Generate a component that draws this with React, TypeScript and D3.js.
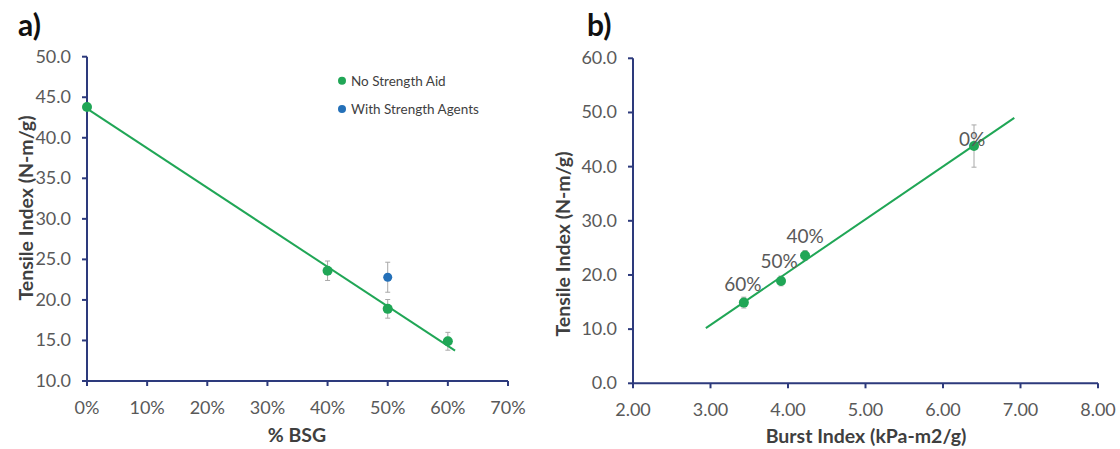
import React from "react";
import * as d3 from "d3";

// panel a) tensile index vs % BSG
const bsgPct = [0, 40, 50, 60];
const tensileNoAid = [43.8, 23.6, 18.9, 14.9];
const tensileErrA = [0, 1.2, 1.15, 1.1];
const bsgPctAgents = [50];
const tensileAgents = [22.8];
const tensileAgentsErr = [1.85];

// panel b) tensile index vs burst index, same samples
const burstIndex = [6.4, 4.22, 3.91, 3.43];
const tensileErrB = [3.9, 0.9, 0.9, 1.0];
const pointLabels = ["0%", "40%", "50%", "60%"];

const xTicksA = [0, 10, 20, 30, 40, 50, 60, 70];
const yTicksA = [10, 15, 20, 25, 30, 35, 40, 45, 50];
const xTicksB = [2, 3, 4, 5, 6, 7, 8];
const yTicksB = [0, 10, 20, 30, 40, 50, 60];

const trendRangeA = [0, 61.2];
const trendRangeB = [2.94, 6.92];

const legendItems = ["No Strength Aid", "With Strength Agents"];

const GREEN = "#20a656";
const BLUE = "#2470b8";
const AXIS = "#2d3a7c";
const TICK_TXT = "#595959";
const TITLE_TXT = "#3f3f3f";
const ERR = "#a8a8a8";
const FONT = "Lato, 'Open Sans', sans-serif";

// least squares, like the excel trendline
function linFit(xs: number[], ys: number[]) {
  const mx = d3.mean(xs)!;
  const my = d3.mean(ys)!;
  let sxy = 0;
  let sxx = 0;
  xs.forEach((x, i) => {
    sxy += (x - mx) * (ys[i] - my);
    sxx += (x - mx) * (x - mx);
  });
  const slope = sxy / sxx;
  return (x: number) => my + slope * (x - mx);
}

const ErrorBar = ({ x, y0, y1, color }: any) => (
  <g stroke={color} strokeWidth={1}>
    <line x1={x} x2={x} y1={y0} y2={y1} />
    <line x1={x - 2.5} x2={x + 2.5} y1={y0} y2={y0} />
    <line x1={x - 2.5} x2={x + 2.5} y1={y1} y2={y1} />
  </g>
);

const Axes = ({ x, y, xTicks, yTicks, xFmt, yFmt }: any) => {
  const [x0, x1] = x.range();
  const [yb, yt] = y.range();
  return (
    <g>
      <line x1={x0} x2={x1} y1={yb} y2={yb} stroke={AXIS} strokeWidth={2} />
      <line x1={x0} x2={x0} y1={yb} y2={yt} stroke={AXIS} strokeWidth={2} />
      {xTicks.map((t: number) => (
        <g key={"x" + t}>
          <line x1={x(t)} x2={x(t)} y1={yb} y2={yb + 5} stroke={AXIS} strokeWidth={2} />
          <text x={x(t)} y={yb + 33} textAnchor="middle" fontSize={18} fill={TICK_TXT}>
            {xFmt(t)}
          </text>
        </g>
      ))}
      {yTicks.map((t: number) => (
        <g key={"y" + t}>
          <line x1={x0 - 5} x2={x0} y1={y(t)} y2={y(t)} stroke={AXIS} strokeWidth={2} />
          <text x={x0 - 16} y={y(t) + 6} textAnchor="end" fontSize={18} fill={TICK_TXT}>
            {yFmt(t)}
          </text>
        </g>
      ))}
    </g>
  );
};

const PanelA = () => {
  const x = d3.scaleLinear().domain([0, 70]).range([87, 508]);
  const y = d3.scaleLinear().domain([10, 50]).range([381, 56.7]);
  const fit = linFit(bsgPct, tensileNoAid);
  const trend = d3.line<number>().x((d) => x(d)).y((d) => y(fit(d)));

  return (
    <g>
      <text x={18} y={36} fontSize={30} fontWeight="bold" fill="#111">a)</text>
      {bsgPct.map((p, i) =>
        tensileErrA[i] > 0 ? (
          <ErrorBar key={"e" + i} x={x(p)} y0={y(tensileNoAid[i] + tensileErrA[i])}
            y1={y(tensileNoAid[i] - tensileErrA[i])} color={ERR} />
        ) : null
      )}
      {bsgPctAgents.map((p, i) => (
        <ErrorBar key={"ea" + i} x={x(p)} y0={y(tensileAgents[i] + tensileAgentsErr[i])}
          y1={y(tensileAgents[i] - tensileAgentsErr[i])} color={ERR} />
      ))}
      <Axes x={x} y={y} xTicks={xTicksA} yTicks={yTicksA}
        xFmt={(t: number) => t + "%"} yFmt={d3.format(".1f")} />
      {bsgPct.map((p, i) => (
        <circle key={"p" + i} cx={x(p)} cy={y(tensileNoAid[i])} r={5} fill={GREEN} />
      ))}
      {bsgPctAgents.map((p, i) => (
        <circle key={"pa" + i} cx={x(p)} cy={y(tensileAgents[i])} r={4.5} fill={BLUE} />
      ))}
      <path d={trend(trendRangeA) || ""} fill="none" stroke={GREEN} strokeWidth={2} />

      {legendItems.map((name, i) => (
        <g key={name} transform={`translate(342, ${80.7 + i * 28.3})`}>
          <circle r={4} fill={i === 0 ? GREEN : BLUE} />
          <text x={9} y={5} fontSize={13.5} fill={TITLE_TXT}>{name}</text>
        </g>
      ))}

      <text x={297} y={442} textAnchor="middle" fontSize={19.5} fontWeight="bold" fill={TITLE_TXT}>
        % BSG
      </text>
      <text transform="translate(33, 208) rotate(-90)" textAnchor="middle" fontSize={19.5}
        fontWeight="bold" fill={TITLE_TXT}>
        Tensile Index (N-m/g)
      </text>
    </g>
  );
};

// where each point label sits relative to its marker
const labelOffsets: Record<string, [number, number]> = {
  "0%": [-2, -7],
  "40%": [0, -19],
  "50%": [-2, -20],
  "60%": [-1, -19],
};

const PanelB = () => {
  const x = d3.scaleLinear().domain([2, 8]).range([633, 1098]);
  const y = d3.scaleLinear().domain([0, 60]).range([383.3, 58.3]);
  const fit = linFit(burstIndex, tensileNoAid);
  const trend = d3.line<number>().x((d) => x(d)).y((d) => y(fit(d)));

  return (
    <g>
      <text x={587} y={36} fontSize={30} fontWeight="bold" fill="#111">b)</text>
      {burstIndex.map((b, i) => (
        <ErrorBar key={"e" + i} x={x(b)} y0={y(tensileNoAid[i] + tensileErrB[i])}
          y1={y(tensileNoAid[i] - tensileErrB[i])} color={ERR} />
      ))}
      <Axes x={x} y={y} xTicks={xTicksB} yTicks={yTicksB}
        xFmt={d3.format(".2f")} yFmt={d3.format(".1f")} />
      {burstIndex.map((b, i) => (
        <circle key={"p" + i} cx={x(b)} cy={y(tensileNoAid[i])} r={5} fill={GREEN} />
      ))}
      <path d={trend(trendRangeB) || ""} fill="none" stroke={GREEN} strokeWidth={2} />
      {burstIndex.map((b, i) => {
        const [dx, dy] = labelOffsets[pointLabels[i]];
        return (
          <text key={"l" + i} x={x(b) + dx} y={y(tensileNoAid[i]) + dy + 7}
            textAnchor="middle" fontSize={19} fill={TICK_TXT}>
            {pointLabels[i]}
          </text>
        );
      })}

      <text x={866} y={443} textAnchor="middle" fontSize={19.5} fontWeight="bold" fill={TITLE_TXT}>
        Burst Index (kPa-m2/g)
      </text>
      <text transform="translate(570, 244) rotate(-90)" textAnchor="middle" fontSize={19.5}
        fontWeight="bold" fill={TITLE_TXT}>
        Tensile Index (N-m/g)
      </text>
    </g>
  );
};

export default function App() {
  return (
    <svg width={1120} height={449} fontFamily={FONT}
      style={{ position: "absolute", left: 0, top: 0, background: "#fff" }}>
      <rect width={1120} height={449} fill="#fff" />
      <PanelA />
      <PanelB />
    </svg>
  );
}
